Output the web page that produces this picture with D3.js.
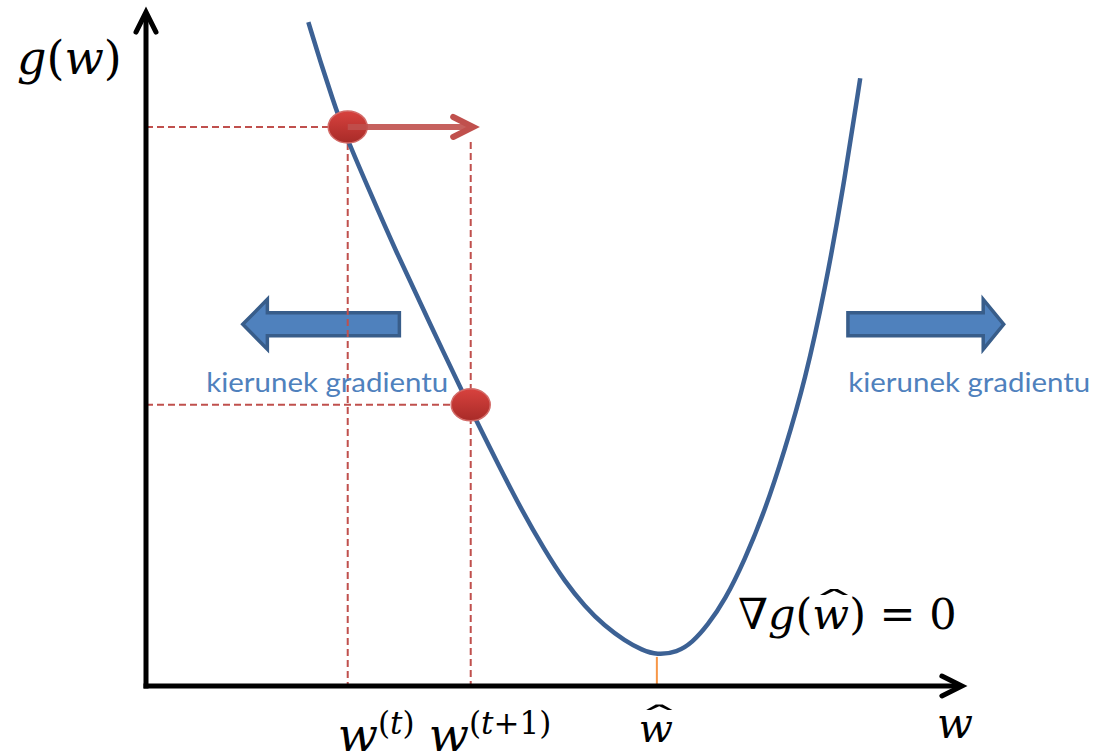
<!DOCTYPE html>
<html><head><meta charset="utf-8">
<script src="https://cdn.jsdelivr.net/npm/d3@7"></script>
<style>html,body{margin:0;padding:0;background:#fff;} svg{display:block}</style>
</head><body>
<svg id="c" width="1096" height="755"></svg>
<script>
// ---- data (abstract units: w 0..100, g 0..100) ----
const curveW = [19.8, 21.2, 22.8, 23.9, 27.3, 30.4, 34.6, 39.3, 43.2, 45.6, 48.6, 51.1, 53.5, 55.9, 58.4, 60.5, 62.3, 64.8, 66.6, 68.5, 70.6, 73.0, 75.5, 77.9, 80.4, 82.8, 85.0, 87.1];
const curveG = [98.2, 92.6, 86.7, 82.7, 73.1, 64.5, 53.7, 41.6, 32.2, 26.5, 20.1, 15.4, 11.8, 8.9, 6.7, 5.3, 4.6, 5.0, 6.4, 9.0, 12.7, 18.6, 26.0, 34.9, 45.3, 58.6, 73.4, 89.9];
const iterW = [24.6, 39.6];      // w(t), w(t+1)
const iterG = [82.7, 41.6];      // g(w(t)), g(w(t+1))
const wHat = 62.3, gMin = 4.6;
const stepTipW = 39.9;
const gradLabels = ["kierunek gradientu", "kierunek gradientu"];
const axisMax = [99.5, 99.7];    // arrow tips of w and g axes

const svg = d3.select("#c");
const x = d3.scaleLinear().domain([0, 100]).range([146, 966]);
const y = d3.scaleLinear().domain([0, 100]).range([686, 10]);

const defs = svg.append("defs");
const gr = defs.append("linearGradient").attr("id","redg").attr("x1",0).attr("y1",0).attr("x2",0).attr("y2",1);
gr.append("stop").attr("offset","0%").attr("stop-color","#d8423e");
gr.append("stop").attr("offset","100%").attr("stop-color","#a82b28");

// ---- blue block arrows ----
function blockArrow(tipW, headW, tailW, cg) {
  const bh = 11.5, hh = 25;
  const cy = y(cg);
  const p = d3.path();
  p.moveTo(x(tipW), cy);
  p.lineTo(x(headW), cy - hh);
  p.lineTo(x(headW), cy - bh);
  p.lineTo(x(tailW), cy - bh);
  p.lineTo(x(tailW), cy + bh);
  p.lineTo(x(headW), cy + bh);
  p.lineTo(x(headW), cy + hh);
  p.closePath();
  return p.toString();
}
svg.append("path").attr("d", blockArrow(11.8, 14.8, 30.9, 53.5))
  .attr("fill","#4f81bd").attr("stroke","#385d8a").attr("stroke-width",3.5).attr("stroke-linejoin","miter");
svg.append("path").attr("d", blockArrow(104.6, 102.1, 85.6, 53.5))
  .attr("fill","#4f81bd").attr("stroke","#385d8a").attr("stroke-width",3.5).attr("stroke-linejoin","miter");

// ---- dashed guide lines ----
function dline(x1,y1,x2,y2){
  svg.append("line").attr("x1",x1).attr("y1",y1).attr("x2",x2).attr("y2",y2)
    .attr("stroke","#c0504d").attr("stroke-width",2).attr("stroke-dasharray","7,4");
}
dline(x(0), y(iterG[0]), x(iterW[0]) - 18, y(iterG[0]));
dline(x(iterW[0]), y(iterG[0]) + 16, x(iterW[0]), y(0));
dline(x(0), y(iterG[1]), x(iterW[1]) - 16, y(iterG[1]));
dline(x(iterW[1]), y(iterG[0]) + 15, x(iterW[1]), y(0));

// ---- curve ----
const pts = curveW.map((w,i)=>[w, curveG[i]]);
svg.append("path").datum(pts)
  .attr("d", d3.line().x(d=>x(d[0])).y(d=>y(d[1])).curve(d3.curveBasis))
  .attr("fill","none").attr("stroke","#3c6194").attr("stroke-width",4.5).attr("stroke-linecap","butt");

// orange tick at minimum
svg.append("line").attr("x1",x(wHat)).attr("x2",x(wHat)).attr("y1",y(gMin)+2).attr("y2",y(0))
  .attr("stroke","#f79646").attr("stroke-width",2);

// ---- axes ----
const ax = svg.append("g").attr("stroke","#000").attr("fill","none").attr("stroke-width",5);
ax.append("line").attr("x1",x(0)).attr("y1",y(0)+2.5).attr("x2",x(0)).attr("y2",y(axisMax[1])+2);
ax.append("line").attr("x1",x(0)-2.5).attr("y1",y(0)).attr("x2",x(axisMax[0])-2).attr("y2",y(0));
ax.append("path").attr("d",`M${x(0)-10},${y(axisMax[1])+20} L${x(0)},${y(axisMax[1])} L${x(0)+10},${y(axisMax[1])+20}`)
  .attr("stroke-linecap","round").attr("stroke-linejoin","miter");
ax.append("path").attr("d",`M${x(axisMax[0])-20},${y(0)-10} L${x(axisMax[0])},${y(0)} L${x(axisMax[0])-20},${y(0)+10}`)
  .attr("stroke-linecap","round").attr("stroke-linejoin","miter");

// ---- iterate points ----
svg.selectAll("ellipse.pt").data(iterW).enter().append("ellipse")
  .attr("cx",d=>x(d)).attr("cy",(d,i)=>y(iterG[i])).attr("rx",19.5).attr("ry",16)
  .attr("fill","url(#redg)").attr("stroke","#d36b68").attr("stroke-width",1.5);

// red step arrow
const ry0 = y(iterG[0]);
svg.append("line").attr("x1",x(iterW[0])).attr("y1",ry0).attr("x2",x(stepTipW)-3).attr("y2",ry0)
  .attr("stroke","#c0504d").attr("stroke-width",6).attr("opacity",0.9);
svg.append("path").attr("d",`M${x(stepTipW)-20},${ry0-10} L${x(stepTipW)},${ry0} L${x(stepTipW)-20},${ry0+10}`)
  .attr("fill","none").attr("stroke","#c0504d").attr("stroke-width",6).attr("stroke-linecap","round").attr("stroke-linejoin","miter");

// ---- texts ----
const mathFont = "'DejaVu Serif', serif";
function mathText(px, py, size, parts){
  const t = svg.append("text").attr("x",px).attr("y",py).attr("font-family",mathFont).attr("font-size",size).attr("fill","#000");
  parts.forEach(p=>{
    const s = t.append("tspan").text(p.t).attr("font-style", p.i ? "italic" : "normal");
    if (p.size) s.attr("font-size", p.size);
    if (p.dy) s.attr("dy", p.dy);
    if (p.dx) s.attr("dx", p.dx);
  });
  return t;
}
// hat over a given character index of a text element
function hatOver(t, idx, size){
  const n = t.node();
  const s = n.getStartPositionOfChar(idx), e = n.getEndPositionOfChar(idx);
  const cx = (s.x + e.x) / 2 + size * 0.08;
  const baseY = s.y;
  svg.append("text").attr("font-family",mathFont).attr("font-size",size)
    .attr("text-anchor","middle")
    .attr("transform",`translate(${cx},${baseY - size*0.32}) scale(2.1,0.75)`)
    .text("ˆ");
}
mathText(17, 74, 46, [{t:"g",i:1},{t:"("},{t:"w",i:1},{t:")"}]);
mathText(x(iterW[0]) - 10, 751, 47, [{t:"w",i:1},{t:"(",size:31,dy:-17},{t:"t",i:1,size:31},{t:")",size:31}]);
mathText(x(iterW[1]) - 42, 751, 47, [{t:"w",i:1},{t:"(",size:31,dy:-17},{t:"t",i:1,size:31},{t:"+1)",size:31}]);
const wh = mathText(x(wHat) - 18, 742, 40, [{t:"w",i:1}]);
hatOver(wh, 0, 40);
mathText(937, 738, 42, [{t:"w",i:1}]);
const fm = mathText(738, 629, 43, [{t:"∇",i:1},{t:"g",i:1},{t:"("},{t:"w",i:1},{t:") = 0"}]);
hatOver(fm, 3, 43);

svg.selectAll("text.lab").data(gradLabels).enter().append("text")
  .attr("x",(d,i)=> i===0 ? x(22.1) : x(100.4)).attr("y", y(43.5))
  .attr("text-anchor","middle").attr("font-family","Lato, 'Open Sans', sans-serif")
  .attr("font-size",27).attr("fill","#4f81bd")
  .attr("textLength",242).attr("lengthAdjust","spacingAndGlyphs")
  .text(d=>d);
</script>
</body></html>
